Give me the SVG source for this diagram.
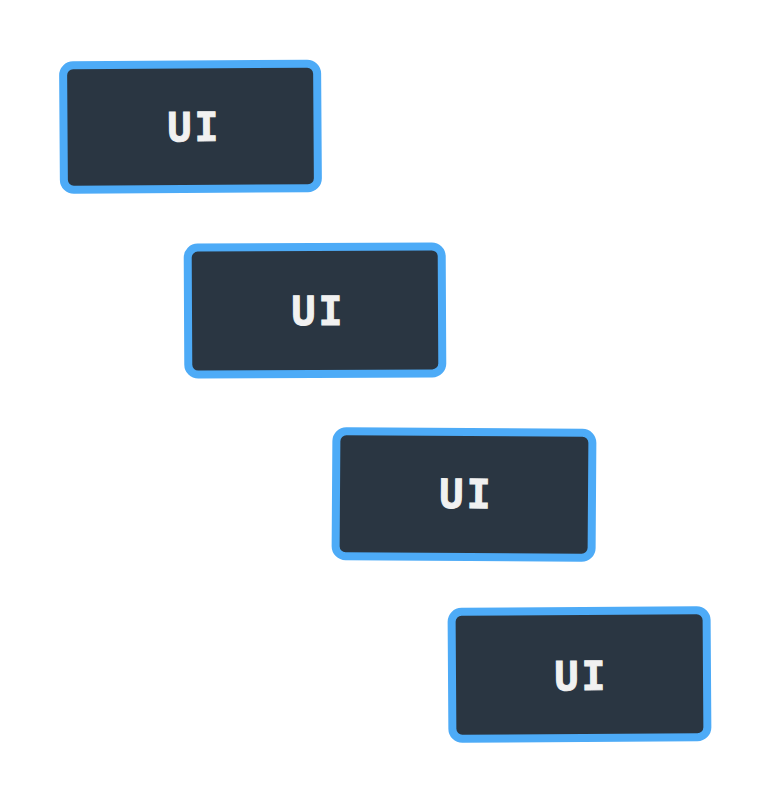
<svg xmlns="http://www.w3.org/2000/svg" width="770" height="802" viewBox="0 0 770 802">
<style>
.box{fill:#2a3642;stroke:#4dabf7;stroke-width:8;stroke-linejoin:round}
.lbl{font-family:"DejaVu Sans Mono","Liberation Mono",monospace;font-weight:bold;font-size:40px;letter-spacing:3px;fill:#f1f1f1;stroke:#f1f1f1;stroke-width:1;text-anchor:middle;dominant-baseline:central}
</style>
<rect width="770" height="802" fill="#ffffff"/>
<g id="connectors"></g>
<g id="node1" transform="rotate(-0.4 190 126)">
<rect class="box" x="63.5" y="64.5" width="254" height="124.5" rx="10"/>
<text class="lbl" x="194.5" y="127">UI</text>
</g>
<g id="node2" transform="rotate(-0.3 315 310)">
<rect class="box" x="188" y="247" width="254" height="127" rx="10"/>
<text class="lbl" x="318.5" y="311">UI</text>
</g>
<g id="node3" transform="rotate(0.4 464 494)">
<rect class="box" x="336" y="432" width="256" height="125" rx="10"/>
<text class="lbl" x="466.5" y="494">UI</text>
</g>
<g id="node4" transform="rotate(-0.4 580 675)">
<rect class="box" x="452" y="611" width="255" height="127" rx="10"/>
<text class="lbl" x="581.5" y="676">UI</text>
</g>
</svg>
